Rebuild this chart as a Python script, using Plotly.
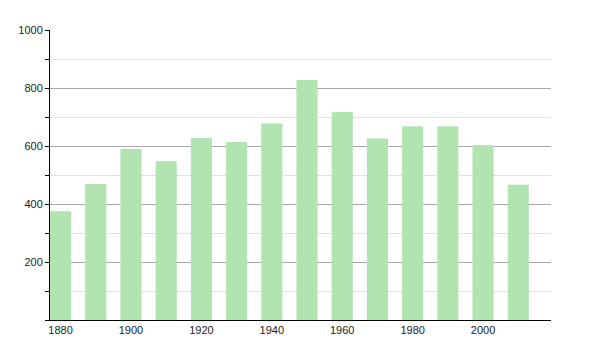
import plotly.graph_objects as go

years = [1880, 1890, 1900, 1910, 1920, 1930, 1940, 1950, 1960, 1970, 1980, 1990, 2000, 2010]
population = [375, 469, 590, 547, 628, 614, 678, 828, 717, 626, 668, 668, 603, 466]
x_tick_vals = [1880, 1900, 1920, 1940, 1960, 1980, 2000]
y_tick_vals = [200, 400, 600, 800, 1000]

fig = go.Figure(
    go.Bar(
        x=years,
        y=population,
        width=6,
        marker=dict(color="#b1e4b1", line=dict(width=0)),
    )
)

fig.update_layout(
    width=600,
    height=350,
    margin=dict(l=50, r=49, t=30, b=30),
    paper_bgcolor="white",
    plot_bgcolor="white",
    showlegend=False,
    font=dict(family="Liberation Sans, Arial, sans-serif", size=11, color="#222"),
    xaxis=dict(
        range=[1877, 2019.3],
        tickvals=x_tick_vals,
        ticktext=[str(v) for v in x_tick_vals],
        showgrid=False,
        zeroline=False,
        showline=True,
        linecolor="black",
        linewidth=1,
        ticks="",
    ),
    yaxis=dict(
        range=[0, 1000],
        tickvals=y_tick_vals,
        ticktext=[str(v) for v in y_tick_vals],
        showgrid=True,
        gridcolor="#a8a8a8",
        gridwidth=1,
        zeroline=False,
        showline=True,
        linecolor="black",
        linewidth=1,
        ticks="outside",
        ticklen=4,
        tickcolor="black",
        minor=dict(
            dtick=100,
            tick0=0,
            showgrid=True,
            gridcolor="#e2e2e2",
            gridwidth=1,
            ticks="outside",
            ticklen=4,
            tickcolor="black",
        ),
    ),
)

fig.write_html("out.html")
